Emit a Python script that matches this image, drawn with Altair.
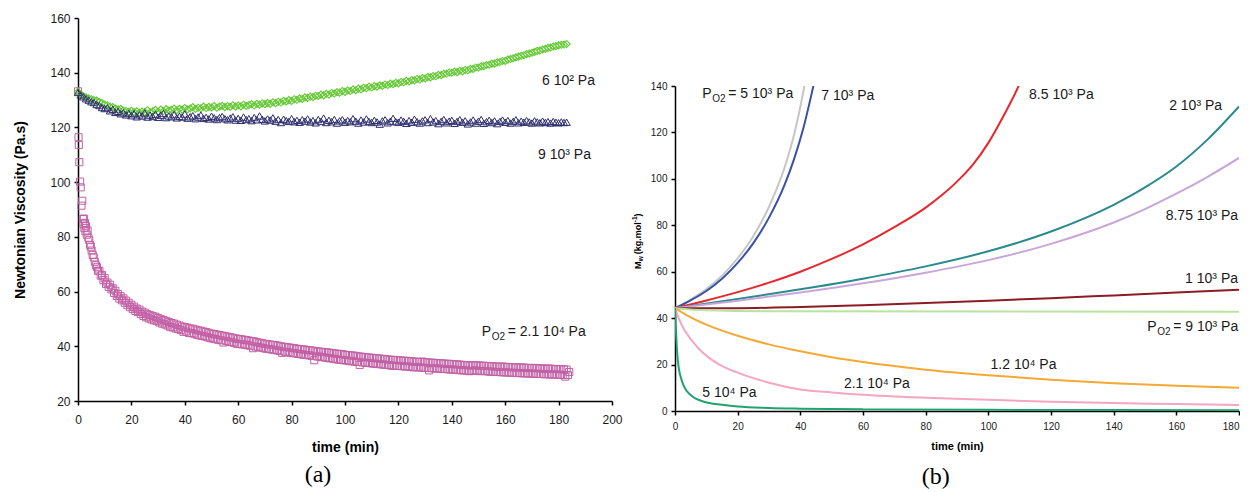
import altair as alt
import pandas as pd

FONT = "Liberation Sans"
INK = "#1a1a1a"

# ------------------------------------------------------------------
# Panel (a): Newtonian viscosity vs time
# ------------------------------------------------------------------
a_xticks = [0, 20, 40, 60, 80, 100, 120, 140, 160, 180, 200]
a_yticks = [20, 40, 60, 80, 100, 120, 140, 160]

# 6 10^2 Pa (green diamonds), one point per minute from t = 0
a_diamond = [
    133.0, 132.2, 131.4, 131.0, 130.6, 130.3, 130.0, 129.8, 129.3, 128.9,
    128.4, 128.1, 127.6, 127.4, 126.9, 126.6, 126.8, 126.2, 126.0, 125.7,
    126.1, 125.6, 125.9, 125.4, 125.8, 125.6, 126.3, 125.5, 125.9, 126.4,
    125.8, 126.5, 126.0, 126.7, 126.2, 126.4, 126.9, 126.3, 126.8, 126.5,
    127.1, 126.6, 126.9, 127.4, 126.8, 127.2, 127.0, 127.6, 127.1, 127.5,
    127.3, 127.8, 127.2, 127.6, 127.9, 127.4, 127.8, 127.5, 128.1, 127.6,
    128.0, 127.7, 128.3, 127.9, 128.2, 128.5, 128.0, 128.6, 128.3, 128.8,
    128.5, 128.9, 128.6, 129.2, 128.9, 129.4, 129.1, 129.7, 129.5, 130.0,
    129.7, 130.3, 130.1, 130.6, 130.4, 131.0, 130.8, 131.3, 131.1, 131.6,
    131.5, 132.0, 131.7, 132.3, 132.0, 132.6, 132.4, 132.9, 132.7, 133.3,
    133.0, 133.5, 133.3, 133.9, 133.6, 134.2, 133.9, 134.5, 134.3, 134.9,
    134.6, 135.1, 134.9, 135.4, 135.2, 135.7, 135.5, 136.0, 135.8, 136.3,
    136.1, 136.6, 136.5, 137.0, 136.8, 137.3, 137.2, 137.7, 137.5, 138.0,
    137.9, 138.4, 138.3, 138.8, 138.7, 139.2, 139.1, 139.6, 139.6, 140.1,
    140.0, 140.4, 140.2, 140.7, 140.5, 141.0, 140.9, 141.4, 141.4, 141.9,
    141.9, 142.3, 142.4, 142.8, 142.9, 143.3, 143.3, 143.8, 143.9, 144.3,
    144.3, 144.8, 145.0, 145.3, 145.6, 145.9, 146.2, 146.4, 146.8, 147.0,
    147.3, 147.6, 148.0, 148.1, 148.5, 148.7, 149.1, 149.2, 149.6, 149.7,
    150.0, 150.2, 150.3, 150.5,
]

# 9 10^3 Pa (navy triangles), one point per minute from t = 0
a_triangle = [
    132.8, 131.9, 131.2, 130.5, 130.0, 129.4, 129.1, 128.4, 128.0, 127.3,
    126.9, 127.2, 126.1, 126.6, 125.5, 125.9, 125.0, 125.4, 124.6, 125.1,
    124.3, 125.0, 123.9, 124.6, 124.2, 125.3, 123.8, 124.5, 124.0, 124.8,
    123.7, 124.4, 125.1, 123.6, 124.2, 123.9, 124.7, 123.5, 124.1, 123.8,
    124.9, 123.4, 123.9, 124.3, 123.2, 123.8, 124.5, 123.3, 123.7, 123.1,
    124.1, 123.5, 122.9, 123.6, 124.0, 123.2, 122.8, 123.4, 123.9, 122.7,
    123.3, 122.6, 123.8, 122.9, 123.2, 122.5, 123.6, 122.8, 124.2, 123.0,
    122.4, 123.1, 122.7, 123.5, 122.3, 122.9, 121.8, 123.0, 122.5, 122.2,
    123.2, 122.1, 122.6, 121.9, 122.8, 122.3, 123.1, 122.0, 122.5, 121.7,
    122.9, 122.2, 123.4, 121.8, 122.6, 122.1, 122.9, 121.6, 122.4, 122.8,
    121.9, 122.5, 122.1, 123.2, 122.3, 121.6, 122.7, 122.0, 123.1, 122.2,
    121.8, 122.6, 122.0, 121.2, 122.4, 122.8, 121.7, 122.3, 123.3, 122.1,
    121.9, 122.7, 122.2, 121.5, 122.5, 121.9, 123.0, 122.1, 121.6, 122.4,
    122.8, 121.8, 123.2, 122.0, 122.5, 121.4, 122.2, 122.9, 121.7, 122.3,
    122.6, 121.5, 122.2, 122.8, 121.9, 122.4, 121.3, 122.0, 122.7, 121.6,
    122.3, 122.9, 121.5, 122.1, 122.6, 121.8, 122.4, 121.4, 122.2, 122.7,
    121.9, 122.5, 121.6, 122.2, 122.8, 121.7, 122.3, 121.9, 122.5, 122.0,
    121.6, 122.4, 122.0, 121.7, 122.3, 121.8, 122.1, 121.6, 122.2, 121.9,
    121.7, 122.0, 121.8, 121.9,
]

# 2.1 10^4 Pa (pink squares): first minutes (irregular times)
a_square_t_early = [0, 0.2, 0.3, 0.5, 0.8, 1.0, 1.3, 1.6, 1.8, 2.0, 2.2, 2.4, 2.6, 2.8,
                    3.0, 3.3, 3.6, 3.9, 4.2, 4.5, 4.8, 5.1, 5.5, 5.9, 6.3, 6.7, 7.1, 7.5]
a_square_early = [133.2, 116.4, 113.6, 107.3, 100.2, 98.1, 91.4, 93.2, 86.5, 84.8, 86.7, 83.2, 85.1, 82.0,
                  83.9, 80.8, 82.3, 79.6, 78.8, 77.1, 76.4, 75.0, 73.4, 72.5, 70.9, 69.6, 68.9, 67.6]
# then every half minute from t = 8
a_square_late = [
    67.6, 65.8, 66.1, 64.2, 64.9, 62.8, 63.3, 61.7, 62.5, 60.8,
    61.2, 59.5, 60.3, 58.4, 59.1, 57.4, 58.3, 56.8, 57.5, 55.9,
    56.7, 55.0, 55.9, 54.3, 55.2, 53.6, 54.5, 52.9, 53.8, 52.5,
    53.4, 51.8, 52.7, 51.1, 52.3, 50.6, 51.7, 50.2, 51.4, 49.8,
    51.0, 49.5, 50.8, 49.2, 50.3, 48.7, 49.9, 48.3, 49.6, 48.0,
    49.3, 47.6, 48.9, 47.1, 48.5, 46.9, 48.3, 46.5, 47.9, 46.3,
    47.6, 45.9, 47.2, 45.3, 47.0, 45.4, 46.8, 44.9, 46.5, 44.8,
    46.4, 44.6, 46.1, 44.2, 45.8, 44.0, 45.7, 43.8, 45.4, 43.6,
    45.2, 43.3, 44.9, 43.0, 44.6, 42.8, 44.5, 42.6, 44.3, 42.4,
    44.1, 42.2, 43.9, 41.4, 43.7, 42.0, 43.5, 41.6, 43.3, 41.5,
    43.1, 41.3, 42.9, 40.9, 42.7, 40.8, 42.6, 40.7, 42.4, 40.6,
    42.3, 40.4, 42.1, 40.2, 41.9, 39.3, 41.8, 39.9, 41.5, 39.7,
    41.3, 39.5, 41.1, 39.3, 40.9, 39.1, 40.8, 39.0, 40.6, 38.8,
    40.5, 38.7, 40.4, 38.5, 40.2, 38.3, 40.0, 37.6, 39.8, 38.0,
    39.7, 37.9, 39.6, 37.6, 39.4, 37.5, 39.3, 37.4, 39.1, 37.2,
    39.0, 37.1, 38.9, 36.9, 38.8, 36.8, 38.6, 36.7, 38.5, 36.5,
    38.4, 34.9, 38.2, 36.3, 38.1, 36.2, 38.0, 36.0, 37.9, 35.9,
    37.8, 35.7, 37.7, 35.6, 37.5, 35.5, 37.4, 35.3, 37.3, 35.1,
    37.2, 35.0, 37.1, 34.9, 36.9, 34.8, 36.8, 34.7, 36.7, 34.5,
    36.6, 34.4, 36.5, 34.3, 36.3, 33.2, 36.2, 34.1, 36.1, 34.0,
    36.0, 33.9, 35.9, 33.8, 35.8, 33.7, 35.7, 33.6, 35.6, 33.5,
    35.5, 33.4, 35.4, 33.3, 35.3, 33.2, 35.2, 33.1, 35.1, 32.9,
    35.0, 32.9, 35.0, 32.8, 34.9, 32.8, 34.8, 32.7, 34.7, 32.6,
    34.7, 32.6, 34.6, 32.5, 34.5, 32.3, 34.4, 32.4, 34.3, 32.3,
    34.3, 32.2, 34.4, 32.1, 34.2, 32.1, 34.1, 31.2, 34.0, 32.0,
    34.0, 31.9, 33.9, 31.9, 33.8, 31.8, 33.8, 31.7, 33.7, 31.7,
    33.6, 31.6, 33.6, 31.5, 33.5, 31.5, 33.4, 31.4, 33.4, 31.3,
    33.3, 31.2, 33.2, 31.2, 33.1, 31.1, 33.1, 30.9, 33.0, 31.0,
    33.1, 31.2, 33.0, 31.1, 33.0, 30.9, 32.9, 31.0, 32.9, 30.9,
    32.8, 30.8, 32.8, 30.7, 32.7, 30.7, 32.6, 30.6, 32.6, 30.6,
    32.5, 30.5, 32.6, 30.5, 32.5, 30.4, 32.4, 30.4, 32.4, 30.3,
    32.3, 30.3, 32.3, 30.2, 32.2, 30.2, 32.3, 30.1, 32.2, 30.1,
    32.1, 30.1, 32.1, 30.0, 32.0, 30.0, 32.1, 29.9, 32.0, 29.9,
    31.9, 29.9, 31.9, 29.8, 31.8, 29.8, 31.9, 29.7, 31.8, 29.7,
    31.7, 29.7, 31.7, 29.6, 31.6, 29.6, 31.7, 29.5, 31.6, 28.9,
    31.5, 29.5, 30.6,
]

a_label_text = ["6 10\u00b2 Pa", "9 10\u00b3 Pa"]
a_label_x = [173.8, 172.3]
a_label_y = [137.0, 109.9]
a_po2_x = [151.2]
a_po2_y = [45.3]
a_po2_rest = ["= 2.1 10\u2074 Pa"]

# ------------------------------------------------------------------
# Panel (b): Mw vs time for different oxygen pressures
# ------------------------------------------------------------------
b_xticks = [0, 20, 40, 60, 80, 100, 120, 140, 160, 180]
b_yticks = [0, 20, 40, 60, 80, 100, 120, 140]

b_names = ["8.75e3", "2e3", "8.5e3", "5e3", "7e3", "1e3", "9e3", "1.2e4", "2.1e4", "5e4"]
b_colors = ["#c9a6d9", "#2b8a8c", "#e8262d", "#c6c6c6", "#3a52a6", "#8b1c25",
            "#b8e3a0", "#f5a934", "#f4a6c2", "#21a36e"]

b_t_5e3 = [0, 5, 10, 15, 20, 25, 30, 35, 38, 41.3, 42.5]
b_v_5e3 = [44.3, 48.0, 52.5, 58.3, 65.8, 75.3, 88.0, 105.0, 119.0, 140.0, 149.0]
b_t_7e3 = [0, 5, 10, 15, 20, 25, 30, 35, 38, 41, 44, 45.5]
b_v_7e3 = [44.3, 47.7, 51.7, 57.0, 63.8, 72.3, 83.3, 97.5, 108.5, 122.0, 139.0, 148.0]
b_t_85e3 = [0, 10, 20, 30, 40, 50, 60, 70, 80, 85, 90, 95, 100, 105, 110, 112]
b_v_85e3 = [44.3, 47.6, 51.2, 55.3, 60.0, 65.5, 71.8, 79.2, 87.6, 92.8, 98.8, 106.0, 115.5, 127.5, 141.0, 147.5]
b_t_2e3 = [0, 20, 40, 60, 80, 100, 120, 140, 150, 160, 170, 180]
b_v_2e3 = [44.3, 48.2, 52.4, 57.0, 62.3, 68.8, 77.3, 88.8, 96.3, 105.3, 117.0, 131.2]
b_t_875e3 = [0, 20, 40, 60, 80, 100, 120, 140, 150, 160, 170, 180]
b_v_875e3 = [44.3, 47.5, 51.0, 55.0, 59.6, 65.0, 72.0, 81.2, 87.0, 93.6, 100.9, 109.0]
b_t_1e3 = [0, 20, 40, 60, 80, 100, 120, 140, 160, 180]
b_v_1e3 = [44.3, 44.3, 44.8, 45.6, 46.5, 47.5, 48.6, 49.8, 51.0, 52.2]
b_t_9e3 = [0, 10, 30, 180]
b_v_9e3 = [44.3, 43.4, 43.0, 42.8]
b_t_12e4 = [0, 5, 10, 20, 30, 40, 50, 60, 80, 100, 120, 140, 160, 180]
b_v_12e4 = [44.3, 40.3, 37.2, 32.4, 28.7, 25.7, 23.2, 21.1, 17.8, 15.4, 13.5, 12.0, 10.9, 10.0]
b_t_21e4 = [0, 1, 3, 5, 8, 13.5, 20, 30, 40, 50, 60, 80, 100, 120, 140, 160, 180]
b_v_21e4 = [44.3, 40.5, 34.9, 31.0, 26.3, 20.5, 16.5, 12.2, 9.3, 8.0, 7.0, 5.7, 4.8, 4.0, 3.4, 3.0, 2.6]
b_t_5e4 = [0, 0.3, 0.7, 1.2, 1.8, 2.9, 5, 9.3, 15, 20, 30, 40, 60, 100, 140, 180]
b_v_5e4 = [44.3, 35.0, 25.0, 18.5, 14.8, 10.5, 6.9, 4.0, 2.7, 1.9, 1.3, 1.0, 0.7, 0.5, 0.4, 0.3]

b_left_text = ["7 10\u00b3 Pa", "8.5 10\u00b3 Pa", "1.2 10\u2074 Pa", "2.1 10\u2074 Pa", "5 10\u2074 Pa"]
b_left_x = [46.7, 113.0, 100.7, 53.9, 8.7]
b_left_y = [135.8, 136.2, 19.8, 11.6, 7.9]
b_right_text = ["2 10\u00b3 Pa", "8.75 10\u00b3 Pa", "1 10\u00b3 Pa"]
b_right_x = [174.6, 179.7, 179.7]
b_right_y = [131.2, 83.8, 56.9]
b_po2_x = [8.7, 150.7]
b_po2_y = [136.5, 36.3]
b_po2_rest = ["= 5 10\u00b3 Pa", "= 9 10\u00b3 Pa"]

# ------------------------------------------------------------------
# Build frames
# ------------------------------------------------------------------
df_diamond = pd.DataFrame({"t": list(range(len(a_diamond))), "v": a_diamond})
df_triangle = pd.DataFrame({"t": list(range(len(a_triangle))), "v": a_triangle})
df_square = pd.DataFrame({
    "t": a_square_t_early + [8 + 0.5 * i for i in range(len(a_square_late))],
    "v": a_square_early + a_square_late,
})
df_a_lab = pd.DataFrame({"t": a_label_x, "v": a_label_y, "text": a_label_text})
df_a_po2 = pd.DataFrame({"t": a_po2_x, "v": a_po2_y, "rest": a_po2_rest})

b_series = [
    ("5e3", b_t_5e3, b_v_5e3), ("7e3", b_t_7e3, b_v_7e3), ("8.5e3", b_t_85e3, b_v_85e3),
    ("2e3", b_t_2e3, b_v_2e3), ("8.75e3", b_t_875e3, b_v_875e3), ("1e3", b_t_1e3, b_v_1e3),
    ("9e3", b_t_9e3, b_v_9e3), ("1.2e4", b_t_12e4, b_v_12e4), ("2.1e4", b_t_21e4, b_v_21e4),
    ("5e4", b_t_5e4, b_v_5e4),
]
df_b = pd.concat([pd.DataFrame({"t": t, "v": v, "s": n}) for n, t, v in b_series], ignore_index=True)
df_b_left = pd.DataFrame({"t": b_left_x, "v": b_left_y, "text": b_left_text})
df_b_right = pd.DataFrame({"t": b_right_x, "v": b_right_y, "text": b_right_text})
df_b_po2 = pd.DataFrame({"t": b_po2_x, "v": b_po2_y, "rest": b_po2_rest})

# ------------------------------------------------------------------
# Panel (a)
# ------------------------------------------------------------------
ax_a = dict(domainColor="black", domainWidth=1.5, tickColor="black", tickWidth=1.5, tickSize=4,
            labelFont=FONT, labelFontSize=12, labelColor=INK, titleFont=FONT, titleFontSize=14,
            titleFontWeight="bold", titleColor="black", grid=False, labelFlush=False)
xa = alt.X("t:Q", scale=alt.Scale(domain=[0, 200], nice=False, zero=False),
           axis=alt.Axis(values=a_xticks, title="time (min)", labelPadding=9, titlePadding=15, **ax_a))
ya = alt.Y("v:Q", scale=alt.Scale(domain=[20, 160], nice=False, zero=False),
           axis=alt.Axis(values=a_yticks, title="Newtonian Viscosity (Pa.s)", labelPadding=4,
                         titlePadding=22, **ax_a))

sq = alt.Chart(df_square).mark_point(shape="square", size=50, filled=False, strokeWidth=1,
                                     color="#c260a5", opacity=1).encode(x=xa, y=ya)
di = alt.Chart(df_diamond).mark_point(shape="diamond", size=50, filled=False, strokeWidth=1.1,
                                      color="#63c933", opacity=1).encode(x=xa, y=ya)
tr = alt.Chart(df_triangle).mark_point(shape="triangle-up", size=55, filled=False, strokeWidth=1,
                                       color="#2f2f70", opacity=1).encode(x=xa, y=ya)

txt_a = dict(baseline="middle", font=FONT, color=INK)
la = alt.Chart(df_a_lab).mark_text(align="left", fontSize=14, **txt_a).encode(x=xa, y=ya, text="text:N")
pa1 = alt.Chart(df_a_po2).mark_text(align="left", fontSize=14, text="P", **txt_a).encode(x=xa, y=ya)
pa2 = alt.Chart(df_a_po2).mark_text(align="left", fontSize=10, text="O2", dx=10, dy=5, **txt_a).encode(x=xa, y=ya)
pa3 = alt.Chart(df_a_po2).mark_text(align="left", fontSize=14, dx=26, **txt_a).encode(x=xa, y=ya, text="rest:N")

panel_a = alt.layer(sq, di, tr, la, pa1, pa2, pa3).properties(
    width=534, height=383,
    title=alt.TitleParams("(a)", orient="bottom", font="Liberation Serif", fontSize=24,
                          fontWeight="normal", color="black", anchor="middle", frame="bounds", offset=9),
)

# ------------------------------------------------------------------
# Panel (b)
# ------------------------------------------------------------------
ax_b = dict(domainColor="black", domainWidth=1.5, tickColor="black", tickWidth=1.5, tickSize=4,
            labelFont=FONT, labelFontSize=10, labelColor=INK, titleFont=FONT, titleFontSize=11,
            titleFontWeight="bold", titleColor="black", grid=False, labelFlush=False)
xb = alt.X("t:Q", scale=alt.Scale(domain=[0, 180], nice=False, zero=False),
           axis=alt.Axis(values=b_xticks, title="time (min)", labelPadding=6, titlePadding=9,
                         labelAlign={"condition": {"test": "datum.value == 180", "value": "right"},
                                     "value": "center"},
                         **ax_b))
yb = alt.Y("v:Q", scale=alt.Scale(domain=[0, 140], nice=False, zero=False),
           axis=alt.Axis(values=b_yticks, title=None, labelPadding=4, **ax_b))

lines = alt.Chart(df_b).mark_line(strokeWidth=2, interpolate="monotone", clip=True).encode(
    x=xb, y=yb,
    color=alt.Color("s:N", scale=alt.Scale(domain=b_names, range=b_colors), legend=None),
)

txt_b = dict(baseline="middle", font=FONT, color=INK)
lb_left = alt.Chart(df_b_left).mark_text(align="left", fontSize=14, **txt_b).encode(x=xb, y=yb, text="text:N")
lb_right = alt.Chart(df_b_right).mark_text(align="right", fontSize=14, **txt_b).encode(x=xb, y=yb, text="text:N")
pb1 = alt.Chart(df_b_po2).mark_text(align="left", fontSize=14, text="P", **txt_b).encode(x=xb, y=yb)
pb2 = alt.Chart(df_b_po2).mark_text(align="left", fontSize=10, text="O2", dx=10, dy=5, **txt_b).encode(x=xb, y=yb)
pb3 = alt.Chart(df_b_po2).mark_text(align="left", fontSize=14, dx=26, **txt_b).encode(x=xb, y=yb, text="rest:N")

# rotated y title "Mw (kg.mol-1)" with sub/superscript pieces
one = pd.DataFrame({"k": [0]})
def ytitle_piece(text, size, dx, dy):
    return alt.Chart(one).mark_text(text=text, angle=270, align="left", baseline="middle", font=FONT,
                                    fontSize=size, fontWeight="bold", dx=dx, dy=dy, color="black").encode(
        x=alt.value(-37), y=alt.value(183))

yt = [
    ytitle_piece("M", 9, 0, 0),
    ytitle_piece("w", 6.5, 7.7, 3),
    ytitle_piece("(kg.mol", 9, 14.8, 0),
    ytitle_piece("-1", 6.5, 46.8, -3.5),
    ytitle_piece(")", 9, 52.5, 0),
]

panel_b = alt.layer(lines, lb_left, lb_right, pb1, pb2, pb3, *yt).properties(
    width=564, height=325,
    title=alt.TitleParams("(b)", orient="bottom", font="Liberation Serif", fontSize=24,
                          fontWeight="normal", color="black", anchor="middle", frame="bounds", offset=14),
)

spacer = alt.Chart(one).mark_text(text=" ", opacity=0).encode(
    x=alt.value(0), y=alt.value(0)).properties(width=1, height=63)

chart = alt.hconcat(
    panel_a, alt.vconcat(spacer, panel_b, spacing=0), spacing=8
).properties(
    padding={"left": 5, "top": 4, "right": 0, "bottom": 0}
).configure_view(strokeOpacity=0)

chart.save("out.html", embed_options={"renderer": "svg", "actions": False})
